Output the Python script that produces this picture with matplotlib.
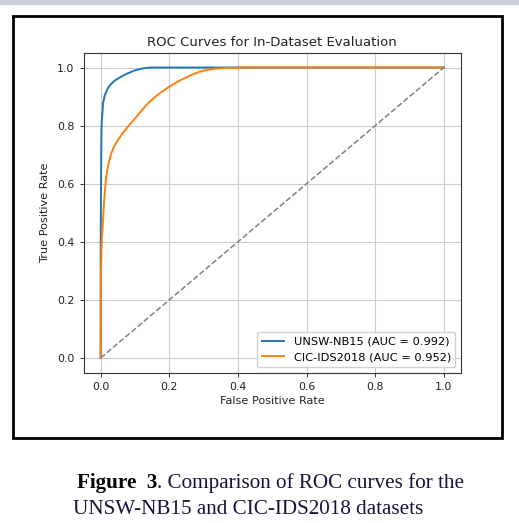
import matplotlib
matplotlib.use("Agg")
import matplotlib.pyplot as plt
from matplotlib.patches import Rectangle

# ROC curve points
unsw_fpr = [0.0, 0.0, 0.001, 0.002, 0.003, 0.007, 0.012, 0.021, 0.03, 0.041, 0.055,
            0.07, 0.085, 0.099, 0.115, 0.13, 0.144, 0.2, 0.4, 0.6, 0.8, 1.0]
unsw_tpr = [0.0, 0.35, 0.6, 0.75, 0.81, 0.877, 0.905, 0.929, 0.943, 0.955, 0.965,
            0.975, 0.983, 0.99, 0.995, 0.998, 1.0, 1.0, 1.0, 1.0, 1.0, 1.0]

cic_fpr = [0.0, 0.001, 0.003, 0.007, 0.01, 0.016, 0.023, 0.031, 0.04, 0.05, 0.065,
           0.08, 0.095, 0.109, 0.123, 0.138, 0.155, 0.173, 0.2, 0.23, 0.26, 0.285,
           0.309, 0.335, 0.357, 0.38, 0.4, 0.5, 0.6, 0.8, 1.0]
cic_tpr = [0.0, 0.3, 0.4, 0.475, 0.54, 0.624, 0.67, 0.705, 0.73, 0.75, 0.775,
           0.797, 0.818, 0.837, 0.857, 0.877, 0.895, 0.912, 0.934, 0.955, 0.972, 0.984,
           0.992, 0.996, 0.998, 0.999, 1.0, 1.0, 1.0, 1.0, 1.0]

labels = ["UNSW-NB15 (AUC = 0.992)", "CIC-IDS2018 (AUC = 0.952)"]
ticks = [0.0, 0.2, 0.4, 0.6, 0.8, 1.0]

W, H = 519, 523
fig = plt.figure(figsize=(W / 100, H / 100), dpi=100)

# gray strip on top and black frame round the chart
fig.patches.append(Rectangle((0, 1 - 5 / H), 1, 5 / H, transform=fig.transFigure,
                             facecolor="#cdd0d6", edgecolor="none"))
fig.patches.append(Rectangle((13 / W, 1 - 438 / H), (502 - 13) / W, (438 - 16) / H,
                             transform=fig.transFigure, facecolor="none",
                             edgecolor="black", linewidth=2.0))

ax = fig.add_axes([83.5 / W, 1 - 372.5 / H, (461 - 83.5) / W, (372.5 - 53) / H])
ax.plot(unsw_fpr, unsw_tpr, color="tab:blue", lw=1.4, label=labels[0])
ax.plot(cic_fpr, cic_tpr, color="tab:orange", lw=1.4, label=labels[1])
ax.plot([0, 1], [0, 1], "--", color="gray", lw=1.1)
ax.set_xlim(-0.05, 1.05)
ax.set_ylim(-0.05, 1.05)
ax.set_xticks(ticks)
ax.set_yticks(ticks)
ax.tick_params(labelsize=7.9, length=3, width=0.7, colors="#333333", labelcolor="#222222")
for s in ax.spines.values():
    s.set_linewidth(0.8)
    s.set_color("#333333")
ax.grid(True, color="#cccccc", lw=0.8)
ax.set_title("ROC Curves for In-Dataset Evaluation", fontsize=9.5, color="#222222", pad=5)
ax.set_xlabel("False Positive Rate", fontsize=8.1, color="#222222", labelpad=3)
ax.set_ylabel("True Positive Rate", fontsize=8.1, color="#222222", labelpad=5)
ax.legend(loc="lower right", fontsize=8.2, handlelength=2.0, framealpha=0.9)

# caption below the frame
serif = ["Liberation Serif", "DejaVu Serif"]
fig.canvas.draw()
r = fig.canvas.get_renderer()
t1 = fig.text(77 / W, 1 - 488 / H, "Figure  3", fontsize=15.2, family=serif,
              fontweight="bold", color="black", va="baseline")
bb = t1.get_window_extent(r)
fig.text(bb.x1 / W, 1 - 488 / H, ". Comparison of ROC curves for the", fontsize=15.2,
         family=serif, color="#14143c", va="baseline")
fig.text(73 / W, 1 - 514 / H, "UNSW-NB15 and CIC-IDS2018 datasets", fontsize=15.2,
         family=serif, color="#14143c", va="baseline")

fig.savefig("out.png", dpi=100)
